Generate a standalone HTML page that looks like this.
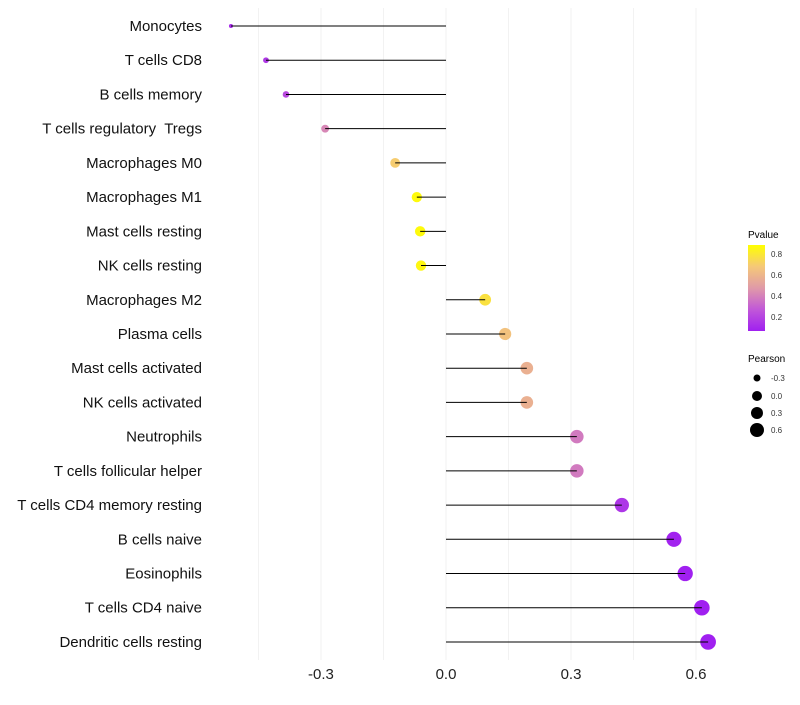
<!DOCTYPE html>
<html><head><meta charset="utf-8"><style>
body{margin:0;background:#fff;font-family:"Liberation Sans",sans-serif}
svg text{font-family:"Liberation Sans",sans-serif;white-space:pre}
</style></head><body>
<svg id="chart" width="800" height="700">
<defs>
<linearGradient id="pg" x1="0" y1="1" x2="0" y2="0">
<stop offset="0" stop-color="#A020F0"/>
<stop offset="0.25" stop-color="#C158D8"/>
<stop offset="0.5" stop-color="#E09AA8"/>
<stop offset="0.75" stop-color="#F5C878"/>
<stop offset="1" stop-color="#FFFF00"/>
</linearGradient>
</defs>
<g id="grid"></g><g id="marks"></g><g id="labels"></g><g id="xaxis"></g>
<g>
<text x="748" y="238" font-size="10">Pvalue</text>
<rect x="748" y="245" width="17" height="86" fill="url(#pg)"/>
<text x="771" y="257" font-size="8" fill="#333">0.8</text>
<text x="771" y="278" font-size="8" fill="#333">0.6</text>
<text x="771" y="299" font-size="8" fill="#333">0.4</text>
<text x="771" y="320" font-size="8" fill="#333">0.2</text>
</g>
<g>
<text x="748" y="362" font-size="10">Pearson</text>
<circle cx="757" cy="378" r="3.5"/><text x="771" y="381" font-size="8" fill="#333">-0.3</text>
<circle cx="757" cy="396" r="5"/><text x="771" y="399" font-size="8" fill="#333">0.0</text>
<circle cx="757" cy="413" r="6"/><text x="771" y="416" font-size="8" fill="#333">0.3</text>
<circle cx="757" cy="430" r="7"/><text x="771" y="433" font-size="8" fill="#333">0.6</text>
</g>
</svg>
<script>
const categories=["Monocytes","T cells CD8","B cells memory","T cells regulatory  Tregs","Macrophages M0","Macrophages M1","Mast cells resting","NK cells resting","Macrophages M2","Plasma cells","Mast cells activated","NK cells activated","Neutrophils","T cells follicular helper","T cells CD4 memory resting","B cells naive","Eosinophils","T cells CD4 naive","Dendritic cells resting"];
const pearson=[-0.516,-0.432,-0.384,-0.29,-0.122,-0.07,-0.062,-0.06,0.094,0.142,0.194,0.194,0.314,0.314,0.422,0.547,0.574,0.614,0.629];
const pvalues=[0.1,0.14,0.2,0.4,0.68,0.85,0.85,0.84,0.76,0.64,0.56,0.56,0.36,0.36,0.13,0.06,0.05,0.04,0.04];
const xTicks=[-0.3,0,0.3,0.6];
const xLabels=["-0.3","0.0","0.3","0.6"];
const NS="http://www.w3.org/2000/svg";
const x=v=>446+v*416.7;
const y=i=>26+i*34.22;
const rad=v=>Math.sqrt(Math.max(3.5,30+50*v));
const stops=[[0.05,[160,32,240]],[0.255,[193,88,216]],[0.46,[224,154,168]],[0.665,[245,200,120]],[0.87,[255,255,0]]];
function col(p){p=Math.max(0.05,Math.min(0.87,p));for(let k=0;k<stops.length-1;k++){const a=stops[k],b=stops[k+1];if(p<=b[0]){const t=(p-a[0])/(b[0]-a[0]);return 'rgb('+a[1].map((c,j)=>Math.round(c+(b[1][j]-c)*t)).join(',')+')';}}return 'rgb(255,255,0)';}
function mk(t,attrs,parent){const e=document.createElementNS(NS,t);for(const k in attrs)e.setAttribute(k,attrs[k]);parent.appendChild(e);return e;}
const grid=document.getElementById('grid'),marks=document.getElementById('marks'),labels=document.getElementById('labels'),xa=document.getElementById('xaxis');
for(let g=-0.45;g<=0.61;g+=0.15){const l=mk('line',{x1:x(g),x2:x(g),y1:8,y2:660,stroke:'#f2f2f2','stroke-width':1},grid);

}
categories.forEach((c,i)=>{
const cc=mk('circle',{cx:x(pearson[i]),cy:y(i),r:rad(pearson[i]),fill:col(pvalues[i])},marks);


const ln=mk('line',{x1:x(0),x2:x(pearson[i]),y1:y(i),y2:y(i),stroke:'#000','stroke-width':1},marks);


const t=mk('text',{x:202,y:y(i)+5,'text-anchor':'end','font-size':15,fill:'#111'},labels);
t.textContent=c;


});
xTicks.forEach((v,i)=>{const t=mk('text',{x:x(v),y:679,'text-anchor':'middle','font-size':15,fill:'#222'},xa);
t.textContent=xLabels[i];

});
</script>
</body></html>
